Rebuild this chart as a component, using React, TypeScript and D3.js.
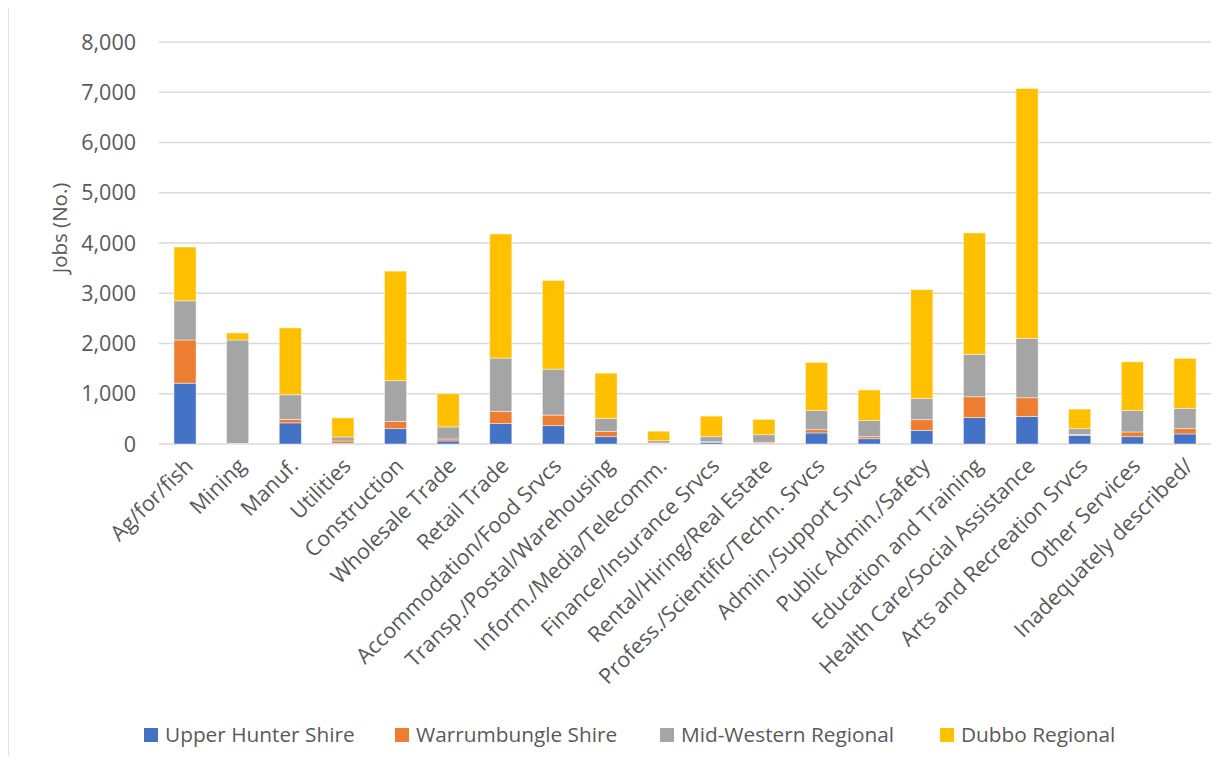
import React from "react";
import * as d3 from "d3";

const categories = [
  "Ag/for/fish", "Mining", "Manuf.", "Utilities", "Construction", "Wholesale Trade",
  "Retail Trade", "Accommodation/Food Srvcs", "Transp./Postal/Warehousing",
  "Inform./Media/Telecomm.", "Finance/Insurance Srvcs", "Rental/Hiring/Real Estate",
  "Profess./Scientific/Techn. Srvcs", "Admin./Support Srvcs", "Public Admin./Safety",
  "Education and Training", "Health Care/Social Assistance", "Arts and Recreation Srvcs",
  "Other Services", "Inadequately described/",
];

const upperHunter = [1210, 5, 420, 10, 305, 60, 405, 365, 145, 10, 35, 10, 220, 105, 272, 525, 550, 170, 145, 200];
const warrumbungle = [860, 5, 70, 50, 145, 40, 245, 210, 105, 10, 10, 25, 65, 40, 212, 415, 370, 20, 95, 105];
const midWestern = [780, 2060, 490, 80, 810, 240, 1060, 915, 260, 45, 100, 150, 380, 320, 425, 845, 1180, 115, 425, 405];
const dubbo = [1070, 140, 1330, 380, 2180, 660, 2470, 1765, 900, 190, 410, 305, 960, 610, 2162, 2415, 4975, 390, 970, 995];

const seriesNames = ["Upper Hunter Shire", "Warrumbungle Shire", "Mid-Western Regional", "Dubbo Regional"];
const seriesColors = ["#4472C4", "#ED7D31", "#A5A5A5", "#FFC000"];
const yTicks = [0, 1000, 2000, 3000, 4000, 5000, 6000, 7000, 8000];

const W = 1228, H = 764;
const FONT = "'Open Sans', sans-serif";
const TEXT = "#595959";

export default function App() {
  const rows = categories.map((c, i) => ({
    cat: c,
    s0: upperHunter[i], s1: warrumbungle[i], s2: midWestern[i], s3: dubbo[i],
  }));
  const stack = d3.stack<any>().keys(["s0", "s1", "s2", "s3"])(rows);
  const x = d3.scaleBand().domain(categories).range([158.7, 1211.3]).paddingInner(0.58).paddingOuter(0.29);
  const y = d3.scaleLinear().domain([0, 8000]).range([444, 42]);
  const fmt = d3.format(",");

  const legendSq = [144, 395, 660, 940];

  return (
    <div style={{ margin: -8 }}>
      <svg width={W} height={H} style={{ display: "block", fontFamily: FONT }}>
        <rect x={0} y={0} width={W} height={H} fill="#fff" />
        <line x1={8} x2={8} y1={0} y2={H} stroke="#d9d9d9" strokeWidth={1.5} />
        {yTicks.map((t) => (
          <g key={t}>
            <line x1={158.7} x2={1211.3} y1={y(t)} y2={y(t)} stroke="#d9d9d9" strokeWidth={1.5} />
            <text x={136} y={y(t)} dy="0.35em" textAnchor="end" fontSize={21.5} fill={TEXT}>{fmt(t)}</text>
          </g>
        ))}
        <text transform={`translate(60,228) rotate(-90)`} textAnchor="middle" dy="0.35em" fontSize={20.5} fill={TEXT}>Jobs (No.)</text>
        {stack.map((s, si) => (
          <g key={si} fill={seriesColors[si]}>
            {s.map((d: any, i: number) => (
              <rect key={i} x={x(categories[i])} width={x.bandwidth()} y={y(d[1])} height={Math.max(0, y(d[0]) - y(d[1]))}
                stroke="#ffffff" strokeOpacity={0.6} strokeWidth={0.75} />
            ))}
          </g>
        ))}
        {categories.map((c) => {
          const cx = (x(c) as number) + x.bandwidth() / 2;
          return (
            <text key={c} transform={`translate(${cx + 4},${462}) rotate(-45)`} textAnchor="end" dy="0.35em" fontSize={21.5} fill={TEXT}>{c}</text>
          );
        })}
        {seriesNames.map((n, i) => (
          <g key={n}>
            <rect x={legendSq[i]} y={728} width={14} height={14} fill={seriesColors[i]} />
            <text x={legendSq[i] + 21} y={735} dy="0.35em" fontSize={20.8} fill={TEXT}>{n}</text>
          </g>
        ))}
      </svg>
    </div>
  );
}
